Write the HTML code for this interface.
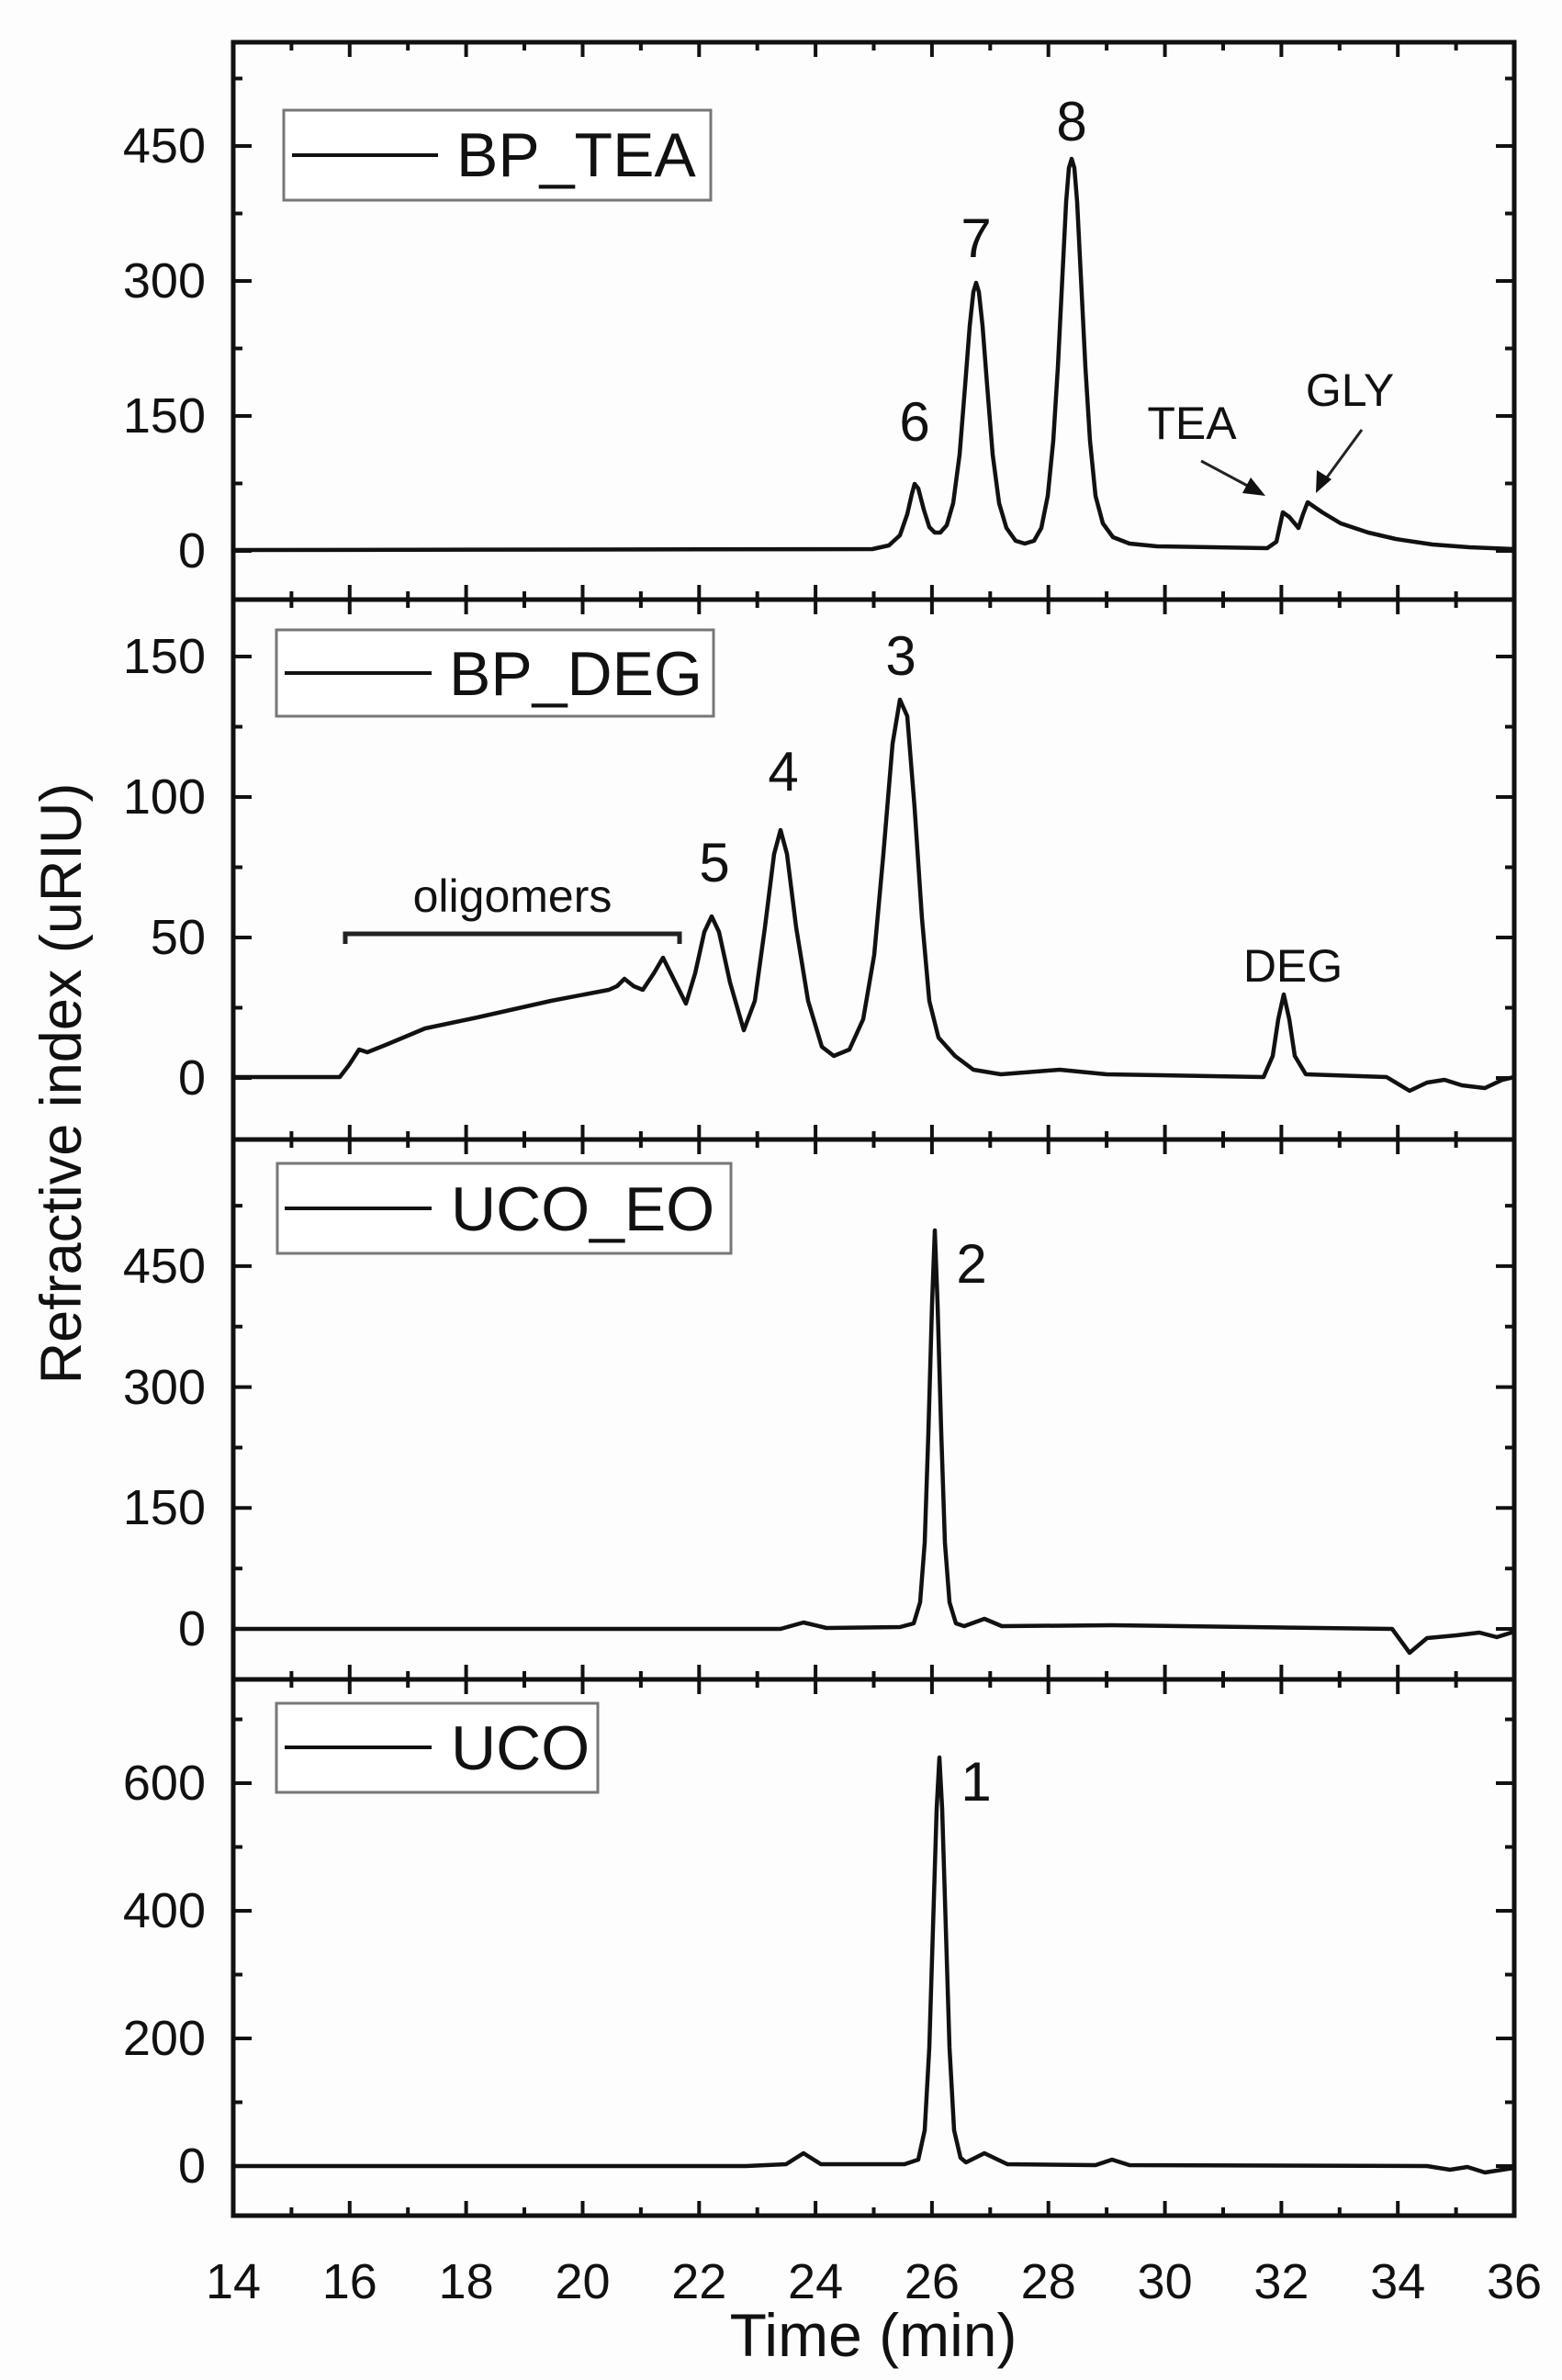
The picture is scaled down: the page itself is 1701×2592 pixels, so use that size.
<!DOCTYPE html>
<html><head><meta charset="utf-8"><style>
html,body{margin:0;padding:0;background:#fdfdfd;}
svg{display:block;font-family:"Liberation Sans",Arial,sans-serif;}
</style></head><body>
<svg width="1701" height="2592" viewBox="0 0 1701 2592" xmlns="http://www.w3.org/2000/svg">
<defs>
<path id="tt" d="M254,0v16M317.4,0v9M380.8,0v16M444.2,0v9M507.6,0v16M571,0v9M634.5,0v16M697.9,0v9M761.3,0v16M824.7,0v9M888.1,0v16M951.5,0v9M1014.9,0v16M1078.3,0v9M1141.7,0v16M1205.1,0v9M1268.6,0v16M1332,0v9M1395.4,0v16M1458.8,0v9M1522.2,0v16M1585.6,0v9" stroke="#111" stroke-width="4" fill="none"/>
</defs>
<rect width="1701" height="2592" fill="#fdfdfd"/>
<g fill="none" stroke="#111" stroke-width="5">
<rect x="254" y="46" width="1395" height="607"/>
<rect x="254" y="653" width="1395" height="588"/>
<rect x="254" y="1241" width="1395" height="588"/>
<rect x="254" y="1829" width="1395" height="584"/>
</g>
<use href="#tt" transform="translate(0,46)"/>
<use href="#tt" transform="translate(0,653) scale(1,-1)"/>
<use href="#tt" transform="translate(0,653)"/>
<use href="#tt" transform="translate(0,1241) scale(1,-1)"/>
<use href="#tt" transform="translate(0,1241)"/>
<use href="#tt" transform="translate(0,1829) scale(1,-1)"/>
<use href="#tt" transform="translate(0,1829)"/>
<use href="#tt" transform="translate(0,2413) scale(1,-1)"/>
<g stroke="#111" stroke-width="4" fill="none">
<path d="M254,600h20M254,526.5h10M254,453h20M254,379.5h10M254,306h20M254,232.5h10M254,159h20M254,85.5h10
M1649,600h-20M1649,526.5h-10M1649,453h-20M1649,379.5h-10M1649,306h-20M1649,232.5h-10M1649,159h-20M1649,85.5h-10"/>
<path d="M254,1174h20M254,1097.5h10M254,1021h20M254,944.5h10M254,868h20M254,791.5h10M254,715h20
M1649,1174h-20M1649,1097.5h-10M1649,1021h-20M1649,944.5h-10M1649,868h-20M1649,791.5h-10M1649,715h-20"/>
<path d="M254,1774h20M254,1708.2h10M254,1642.3h20M254,1576.5h10M254,1510.6h20M254,1444.8h10M254,1378.9h20M254,1313.1h10
M1649,1774h-20M1649,1708.2h-10M1649,1642.3h-20M1649,1576.5h-10M1649,1510.6h-20M1649,1444.8h-10M1649,1378.9h-20M1649,1313.1h-10"/>
<path d="M254,2359h20M254,2289.5h10M254,2220h20M254,2150.5h10M254,2081h20M254,2011.5h10M254,1942h20M254,1872.5h10
M1649,2359h-20M1649,2289.5h-10M1649,2220h-20M1649,2150.5h-10M1649,2081h-20M1649,2011.5h-10M1649,1942h-20M1649,1872.5h-10"/>
</g>
<g font-size="54" text-anchor="end" fill="#111">
<text x="224" y="618">0</text><text x="224" y="471">150</text><text x="224" y="324">300</text><text x="224" y="177">450</text>
<text x="224" y="1192">0</text><text x="224" y="1039">50</text><text x="224" y="886">100</text><text x="224" y="733">150</text>
<text x="224" y="1792">0</text><text x="224" y="1660">150</text><text x="224" y="1529">300</text><text x="224" y="1397">450</text>
<text x="224" y="2377">0</text><text x="224" y="2238">200</text><text x="224" y="2099">400</text><text x="224" y="1960">600</text>
</g>
<g font-size="54" text-anchor="middle" fill="#111">
<text x="254" y="2503">14</text><text x="380.8" y="2503">16</text><text x="507.6" y="2503">18</text><text x="634.5" y="2503">20</text>
<text x="761.3" y="2503">22</text><text x="888.1" y="2503">24</text><text x="1014.9" y="2503">26</text><text x="1141.7" y="2503">28</text>
<text x="1268.6" y="2503">30</text><text x="1395.4" y="2503">32</text><text x="1522.2" y="2503">34</text><text x="1649" y="2503">36</text>
</g>
<g fill="none" stroke="#111" stroke-width="4.5" stroke-linejoin="round" stroke-linecap="round">
<polyline points="254,599 950,598 968,594 980,583 988,560 993,538 996,527 1000,532 1006,555 1012,574 1018,580 1024,580 1031,572 1038,548 1045,495 1051,420 1056,355 1060,318 1063,308 1066,318 1070,355 1075,420 1081,495 1088,548 1096,575 1106,589 1116,592 1126,589 1134,575 1141,540 1147,480 1152,400 1157,300 1161,220 1164,183 1167,173 1170,183 1173,220 1177,300 1182,400 1187,480 1193,540 1201,570 1212,585 1230,592 1260,595 1380,597 1390,590 1397,558 1404,563 1414,575 1419,560 1424,547 1440,558 1460,570 1490,580 1520,587 1560,593 1600,596 1649,598"/>
<polyline points="254,1173 370,1173 380,1160 391,1143 400,1146 420,1138 463,1120 520,1108 600,1090 663,1078 672,1074 680,1066 690,1074 700,1078 712,1060 722,1043 733,1065 747,1093 757,1060 767,1015 775,998 783,1015 795,1070 810,1122 822,1090 833,1010 843,930 850,904 857,930 867,1010 880,1090 895,1140 908,1150 925,1143 940,1110 952,1040 962,930 972,810 980,762 988,780 996,880 1004,1000 1012,1090 1022,1130 1040,1150 1060,1165 1090,1170 1154,1165 1205,1170 1376,1173 1386,1150 1392,1110 1398,1083 1404,1110 1410,1150 1422,1170 1510,1173 1535,1188 1554,1179 1573,1176 1592,1182 1617,1185 1636,1176 1649,1173"/>
<polyline points="254,1774 850,1774 875,1767 900,1773 980,1772 995,1768 1002,1745 1007,1680 1011,1560 1015,1420 1018,1340 1021,1420 1025,1560 1029,1680 1034,1745 1041,1768 1050,1771 1072,1763 1091,1771 1211,1770 1516,1774 1535,1800 1554,1784 1586,1781 1611,1778 1630,1783 1649,1777"/>
<polyline points="254,2359 812,2359 856,2357 875,2345 894,2357 985,2357 1000,2352 1007,2320 1012,2230 1016,2100 1020,1970 1023,1914 1026,1970 1030,2100 1034,2230 1039,2320 1046,2350 1052,2355 1072,2345 1097,2357 1193,2358 1211,2352 1230,2358 1554,2359 1579,2363 1598,2360 1617,2366 1649,2361"/>
</g>
<text transform="translate(88,1180) rotate(-90)" text-anchor="middle" font-size="63" fill="#111">Refractive index (uRIU)</text>
<text x="951" y="2566" text-anchor="middle" font-size="66" fill="#111">Time (min)</text>
<g font-size="60" fill="#111" text-anchor="middle">
<text x="996" y="480">6</text><text x="1063" y="280">7</text><text x="1167" y="153">8</text>
<text x="778" y="960">5</text><text x="853" y="861">4</text><text x="981" y="735">3</text>
<text x="1058" y="1397">2</text><text x="1063" y="1961">1</text>
</g>
<g font-size="50" fill="#111" text-anchor="middle">
<text x="1298" y="478">TEA</text><text x="1470" y="442">GLY</text>
<text x="558" y="993">oligomers</text><text x="1408" y="1069">DEG</text>
</g>
<g stroke="#222" stroke-width="3">
<line x1="1308" y1="502" x2="1366" y2="533"/><line x1="1483" y1="468" x2="1442" y2="524"/>
</g>
<polygon points="1378,540 1353,537 1362,520" fill="#111"/>
<polygon points="1433,537 1434,512 1450,522" fill="#111"/>
<path d="M376,1028 V1017 H740 V1028" stroke="#222" stroke-width="5" fill="none"/>
<g fill="#fff" stroke="#777" stroke-width="3">
<rect x="309" y="120" width="465" height="98"/>
<rect x="301" y="686" width="476" height="94"/>
<rect x="302" y="1267" width="494" height="98"/>
<rect x="301" y="1855" width="350" height="97"/>
</g>
<g stroke="#111" stroke-width="4">
<line x1="318" y1="169" x2="477" y2="169"/>
<line x1="310" y1="733" x2="470" y2="733"/>
<line x1="310" y1="1316" x2="470" y2="1316"/>
<line x1="310" y1="1903" x2="470" y2="1903"/>
</g>
<g font-size="68" fill="#111">
<text x="497" y="192">BP_TEA</text>
<text x="489" y="757">BP_DEG</text>
<text x="491" y="1340">UCO_EO</text>
<text x="491" y="1927">UCO</text>
</g>
</svg>
</body></html>
